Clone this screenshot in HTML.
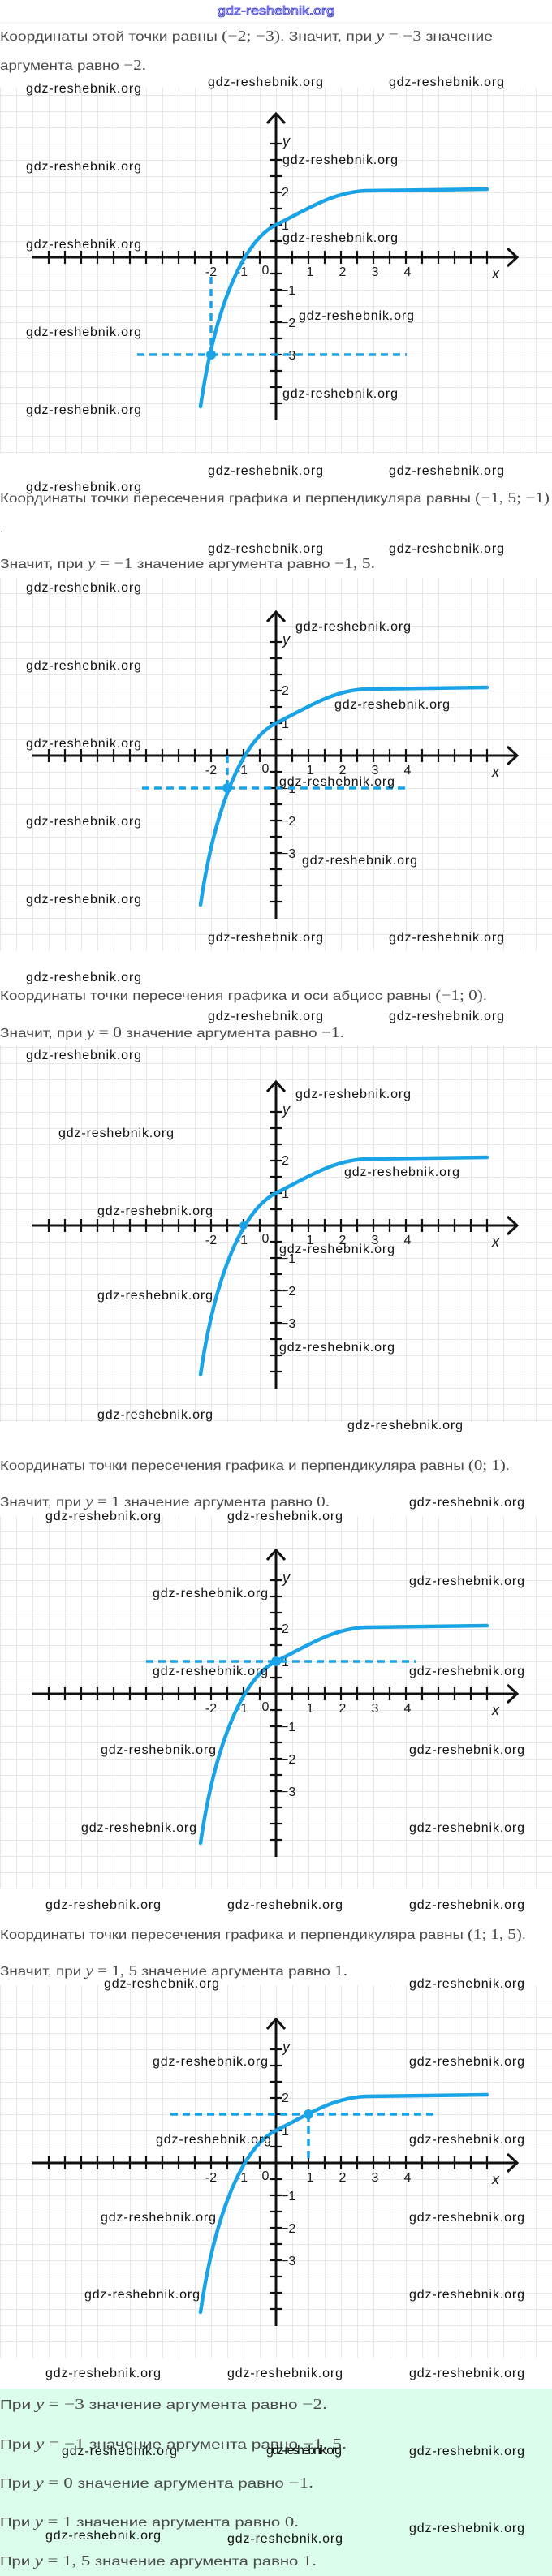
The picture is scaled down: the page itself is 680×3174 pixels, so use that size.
<!DOCTYPE html>
<html><head><meta charset="utf-8"><style>
html,body{margin:0;padding:0;background:#fff;}
svg{display:block}
.t{font-family:"Liberation Sans",sans-serif;font-size:16px;fill:#4a4a4a}
.m{font-family:"Liberation Serif",serif;font-size:18px;fill:#4a4a4a}
.mi{font-family:"Liberation Serif",serif;font-size:18px;font-style:italic;fill:#4a4a4a}
.w{font-family:"Liberation Sans",sans-serif;font-size:16px;fill:#111}
.l{font-family:"Liberation Sans",sans-serif;font-size:16px;fill:#1a1a1a}
.li{font-family:"Liberation Sans",sans-serif;font-size:18px;font-style:italic;fill:#1a1a1a}
</style></head><body>
<svg width="680" height="3174" viewBox="0 0 680 3174" xmlns="http://www.w3.org/2000/svg">
<defs>
<pattern id="gp" width="20" height="20" patternUnits="userSpaceOnUse"><path d="M0 0.5H20M0.5 0V20" stroke="#e8e8e8" stroke-width="1" fill="none"/></pattern>
<g id="ax">
<g stroke="#111" fill="none">
<line x1="-301" y1="0" x2="297" y2="0" stroke-width="3"/>
<polyline points="285,-11 297,0 285,11" stroke-width="3"/>
<line x1="0" y1="-177" x2="0" y2="201" stroke-width="3"/>
<polyline points="-11,-165 0,-177 11,-165" stroke-width="3"/>
<path stroke-width="2.2" d="M-280 -8v16M-260 -8v16M-240 -8v16M-220 -8v16M-200 -8v16M-180 -8v16M-160 -8v16M-140 -8v16M-120 -8v16M-100 -8v16M-80 -8v16M-60 -8v16M-40 -8v16M-20 -8v16M20 -8v16M40 -8v16M60 -8v16M80 -8v16M100 -8v16M120 -8v16M140 -8v16M160 -8v16M180 -8v16M200 -8v16M220 -8v16M240 -8v16M260 -8v16"/>
<path stroke-width="2.2" d="M-8 -140h16M-8 -120h16M-8 -100h16M-8 -80h16M-8 -60h16M-8 -40h16M-8 -20h16M-8 20h16M-8 40h16M-8 60h16M-8 80h16M-8 100h16M-8 120h16M-8 140h16M-8 160h16M-8 180h16"/>
</g>
<text class="l" x="-80" y="23" text-anchor="middle">-2</text>
<text class="l" x="-42" y="23" text-anchor="middle">-1</text>
<text class="l" x="-13" y="21" text-anchor="middle">0</text>
<text class="l" x="42" y="23" text-anchor="middle">1</text>
<text class="l" x="82" y="23" text-anchor="middle">2</text>
<text class="l" x="122" y="23" text-anchor="middle">3</text>
<text class="l" x="162" y="23" text-anchor="middle">4</text>
<text class="li" x="266" y="26">x</text>
<text class="li" x="8" y="-137">y</text>
<text class="l" x="7" y="-75">2</text>
<text class="l" x="7" y="-34">1</text>
<text class="l" x="6" y="46">−1</text>
<text class="l" x="6" y="86">−2</text>
<text class="l" x="6" y="126">−3</text>
<path d="M-93,184 C-75,60 -40,-20 0,-40 C40,-60 70,-80 110,-82 L260,-84" stroke="#1aa3e6" stroke-width="4.5" fill="none" stroke-linecap="round"/>
</g>
</defs>

<text x="340" y="18" text-anchor="middle" font-family="Liberation Sans,sans-serif" font-size="15" fill="#fff" stroke="#3b3bd8" stroke-width="0.8" textLength="144" lengthAdjust="spacingAndGlyphs">gdz-reshebnik.org</text>
<line x1="0" y1="28" x2="680" y2="28" stroke="#eee" stroke-width="1"/>

<text class="t" x="0" y="50" textLength="607" lengthAdjust="spacingAndGlyphs">Координаты этой точки равны <tspan class="m">(−2; −3)</tspan>. Значит, при <tspan class="mi">y</tspan> <tspan class="m">= −3</tspan> значение</text>
<text class="t" x="0" y="86" textLength="180" lengthAdjust="spacingAndGlyphs">аргумента равно <tspan class="m">−2.</tspan></text>

<g transform="translate(340,317)">
<rect x="-340" y="-209" width="680" height="451" fill="url(#gp)"/>
<use href="#ax"/>
<g stroke="#1aa3e6" stroke-width="3.5" stroke-dasharray="9,6" fill="none">
<line x1="-80" y1="24" x2="-80" y2="120"/>
<line x1="-171" y1="120" x2="161" y2="120"/>
</g>
<circle cx="-80" cy="120" r="6" fill="#1aa3e6"/>
</g>

<text class="t" x="0" y="619" textLength="677" lengthAdjust="spacingAndGlyphs">Координаты точки пересечения графика и перпендикуляра равны <tspan class="m">(−1, 5; −1)</tspan></text>
<text class="t" x="0" y="656">.</text>
<text class="t" x="0" y="700" textLength="462" lengthAdjust="spacingAndGlyphs">Значит, при <tspan class="mi">y</tspan> <tspan class="m">= −1</tspan> значение аргумента равно <tspan class="m">−1, 5.</tspan></text>

<g transform="translate(340,931)">
<rect x="-340" y="-219" width="680" height="459" fill="url(#gp)"/>
<use href="#ax"/>
<g stroke="#1aa3e6" stroke-width="3.5" stroke-dasharray="9,6" fill="none">
<line x1="-60" y1="0" x2="-60" y2="40"/>
<line x1="-165" y1="40" x2="165" y2="40"/>
</g>
<circle cx="-60" cy="40" r="6" fill="#1aa3e6"/>
</g>

<text class="t" x="0" y="1232" textLength="600" lengthAdjust="spacingAndGlyphs">Координаты точки пересечения графика и оси абцисс равны <tspan class="m">(−1; 0)</tspan>.</text>
<text class="t" x="0" y="1278" textLength="424" lengthAdjust="spacingAndGlyphs">Значит, при <tspan class="mi">y</tspan> <tspan class="m">= 0</tspan> значение аргумента равно <tspan class="m">−1.</tspan></text>

<g transform="translate(340,1510)">
<rect x="-340" y="-222" width="680" height="464" fill="url(#gp)"/>
<use href="#ax"/>
<circle cx="-40" cy="0" r="5" fill="#1aa3e6"/>
</g>

<text class="t" x="0" y="1811" textLength="628" lengthAdjust="spacingAndGlyphs">Координаты точки пересечения графика и перпендикуляра равны <tspan class="m">(0; 1)</tspan>.</text>
<text class="t" x="0" y="1856" textLength="406" lengthAdjust="spacingAndGlyphs">Значит, при <tspan class="mi">y</tspan> <tspan class="m">= 1</tspan> значение аргумента равно <tspan class="m">0.</tspan></text>

<g transform="translate(340,2087)">
<rect x="-340" y="-218" width="680" height="459" fill="url(#gp)"/>
<use href="#ax"/>
<g stroke="#1aa3e6" stroke-width="3.5" stroke-dasharray="9,6" fill="none">
<line x1="-160" y1="-40" x2="172" y2="-40"/>
</g>
<circle cx="0" cy="-40" r="6" fill="#1aa3e6"/>
</g>

<text class="t" x="0" y="2389" textLength="648" lengthAdjust="spacingAndGlyphs">Координаты точки пересечения графика и перпендикуляра равны <tspan class="m">(1; 1, 5)</tspan>.</text>
<text class="t" x="0" y="2434" textLength="428" lengthAdjust="spacingAndGlyphs">Значит, при <tspan class="mi">y</tspan> <tspan class="m">= 1, 5</tspan> значение аргумента равно <tspan class="m">1.</tspan></text>

<g transform="translate(340,2665)">
<rect x="-340" y="-219" width="680" height="459" fill="url(#gp)"/>
<use href="#ax"/>
<g stroke="#1aa3e6" stroke-width="3.5" stroke-dasharray="9,6" fill="none">
<line x1="40" y1="-60" x2="40" y2="-4"/>
<line x1="-130" y1="-60" x2="200" y2="-60"/>
</g>
<circle cx="40" cy="-60" r="6" fill="#1aa3e6"/>
</g>

<rect x="0" y="2943" width="680" height="231" fill="#dbfdeb"/>
<text class="t" x="0" y="2968" textLength="403" lengthAdjust="spacingAndGlyphs">При <tspan class="mi">y</tspan> <tspan class="m">= −3</tspan> значение аргумента равно <tspan class="m">−2.</tspan></text>
<text class="t" x="0" y="3017" textLength="427" lengthAdjust="spacingAndGlyphs">При <tspan class="mi">y</tspan> <tspan class="m">= −1</tspan> значение аргумента равно <tspan class="m">−1, 5.</tspan></text>
<text class="t" x="0" y="3065" textLength="386" lengthAdjust="spacingAndGlyphs">При <tspan class="mi">y</tspan> <tspan class="m">= 0</tspan> значение аргумента равно <tspan class="m">−1.</tspan></text>
<text class="t" x="0" y="3113" textLength="368" lengthAdjust="spacingAndGlyphs">При <tspan class="mi">y</tspan> <tspan class="m">= 1</tspan> значение аргумента равно <tspan class="m">0.</tspan></text>
<text class="t" x="0" y="3161" textLength="390" lengthAdjust="spacingAndGlyphs">При <tspan class="mi">y</tspan> <tspan class="m">= 1, 5</tspan> значение аргумента равно <tspan class="m">1.</tspan></text>

<g class="w">
<text class="w" x="32" y="114" textLength="142">gdz-reshebnik.org</text>
<text class="w" x="256" y="106" textLength="142">gdz-reshebnik.org</text>
<text class="w" x="479" y="106" textLength="142">gdz-reshebnik.org</text>
<text class="w" x="32" y="210" textLength="142">gdz-reshebnik.org</text>
<text class="w" x="348" y="202" textLength="142">gdz-reshebnik.org</text>
<text class="w" x="32" y="306" textLength="142">gdz-reshebnik.org</text>
<text class="w" x="348" y="298" textLength="142">gdz-reshebnik.org</text>
<text class="w" x="32" y="414" textLength="142">gdz-reshebnik.org</text>
<text class="w" x="368" y="394" textLength="142">gdz-reshebnik.org</text>
<text class="w" x="32" y="510" textLength="142">gdz-reshebnik.org</text>
<text class="w" x="348" y="490" textLength="142">gdz-reshebnik.org</text>
<text class="w" x="256" y="585" textLength="142">gdz-reshebnik.org</text>
<text class="w" x="479" y="585" textLength="142">gdz-reshebnik.org</text>
<text class="w" x="32" y="605" textLength="142">gdz-reshebnik.org</text>
<text class="w" x="256" y="681" textLength="142">gdz-reshebnik.org</text>
<text class="w" x="479" y="681" textLength="142">gdz-reshebnik.org</text>
<text class="w" x="32" y="729" textLength="142">gdz-reshebnik.org</text>
<text class="w" x="364" y="777" textLength="142">gdz-reshebnik.org</text>
<text class="w" x="32" y="825" textLength="142">gdz-reshebnik.org</text>
<text class="w" x="412" y="873" textLength="142">gdz-reshebnik.org</text>
<text class="w" x="32" y="921" textLength="142">gdz-reshebnik.org</text>
<text class="w" x="344" y="968" textLength="142">gdz-reshebnik.org</text>
<text class="w" x="32" y="1017" textLength="142">gdz-reshebnik.org</text>
<text class="w" x="372" y="1065" textLength="142">gdz-reshebnik.org</text>
<text class="w" x="32" y="1113" textLength="142">gdz-reshebnik.org</text>
<text class="w" x="256" y="1160" textLength="142">gdz-reshebnik.org</text>
<text class="w" x="479" y="1160" textLength="142">gdz-reshebnik.org</text>
<text class="w" x="32" y="1209" textLength="142">gdz-reshebnik.org</text>
<text class="w" x="256" y="1257" textLength="142">gdz-reshebnik.org</text>
<text class="w" x="479" y="1257" textLength="142">gdz-reshebnik.org</text>
<text class="w" x="32" y="1305" textLength="142">gdz-reshebnik.org</text>
<text class="w" x="364" y="1353" textLength="142">gdz-reshebnik.org</text>
<text class="w" x="72" y="1401" textLength="142">gdz-reshebnik.org</text>
<text class="w" x="424" y="1449" textLength="142">gdz-reshebnik.org</text>
<text class="w" x="120" y="1497" textLength="142">gdz-reshebnik.org</text>
<text class="w" x="344" y="1544" textLength="142">gdz-reshebnik.org</text>
<text class="w" x="120" y="1601" textLength="142">gdz-reshebnik.org</text>
<text class="w" x="344" y="1665" textLength="142">gdz-reshebnik.org</text>
<text class="w" x="120" y="1748" textLength="142">gdz-reshebnik.org</text>
<text class="w" x="428" y="1761" textLength="142">gdz-reshebnik.org</text>
<text class="w" x="504" y="1856" textLength="142">gdz-reshebnik.org</text>
<text class="w" x="56" y="1873" textLength="142">gdz-reshebnik.org</text>
<text class="w" x="280" y="1873" textLength="142">gdz-reshebnik.org</text>
<text class="w" x="504" y="1953" textLength="142">gdz-reshebnik.org</text>
<text class="w" x="188" y="1968" textLength="142">gdz-reshebnik.org</text>
<text class="w" x="188" y="2064" textLength="142">gdz-reshebnik.org</text>
<text class="w" x="504" y="2064" textLength="142">gdz-reshebnik.org</text>
<text class="w" x="124" y="2161" textLength="142">gdz-reshebnik.org</text>
<text class="w" x="504" y="2161" textLength="142">gdz-reshebnik.org</text>
<text class="w" x="100" y="2257" textLength="142">gdz-reshebnik.org</text>
<text class="w" x="504" y="2257" textLength="142">gdz-reshebnik.org</text>
<text class="w" x="56" y="2352" textLength="142">gdz-reshebnik.org</text>
<text class="w" x="280" y="2352" textLength="142">gdz-reshebnik.org</text>
<text class="w" x="504" y="2352" textLength="142">gdz-reshebnik.org</text>
<text class="w" x="128" y="2449" textLength="142">gdz-reshebnik.org</text>
<text class="w" x="504" y="2449" textLength="142">gdz-reshebnik.org</text>
<text class="w" x="188" y="2545" textLength="142">gdz-reshebnik.org</text>
<text class="w" x="504" y="2545" textLength="142">gdz-reshebnik.org</text>
<text class="w" x="192" y="2641" textLength="142">gdz-reshebnik.org</text>
<text class="w" x="504" y="2641" textLength="142">gdz-reshebnik.org</text>
<text class="w" x="124" y="2737" textLength="142">gdz-reshebnik.org</text>
<text class="w" x="504" y="2737" textLength="142">gdz-reshebnik.org</text>
<text class="w" x="104" y="2832" textLength="142">gdz-reshebnik.org</text>
<text class="w" x="504" y="2832" textLength="142">gdz-reshebnik.org</text>
<text class="w" x="56" y="2929" textLength="142">gdz-reshebnik.org</text>
<text class="w" x="280" y="2929" textLength="142">gdz-reshebnik.org</text>
<text class="w" x="504" y="2929" textLength="142">gdz-reshebnik.org</text>
<text class="w" x="76" y="3025" textLength="142">gdz-reshebnik.org</text>
<text class="w" x="328" y="3024" textLength="93" font-size="11">gdz-reshebnik.org</text>
<text class="w" x="504" y="3025" textLength="142">gdz-reshebnik.org</text>
<text class="w" x="56" y="3129" textLength="142">gdz-reshebnik.org</text>
<text class="w" x="280" y="3133" textLength="142">gdz-reshebnik.org</text>
<text class="w" x="504" y="3120" textLength="142">gdz-reshebnik.org</text>
</g>
</svg>
</body></html>
